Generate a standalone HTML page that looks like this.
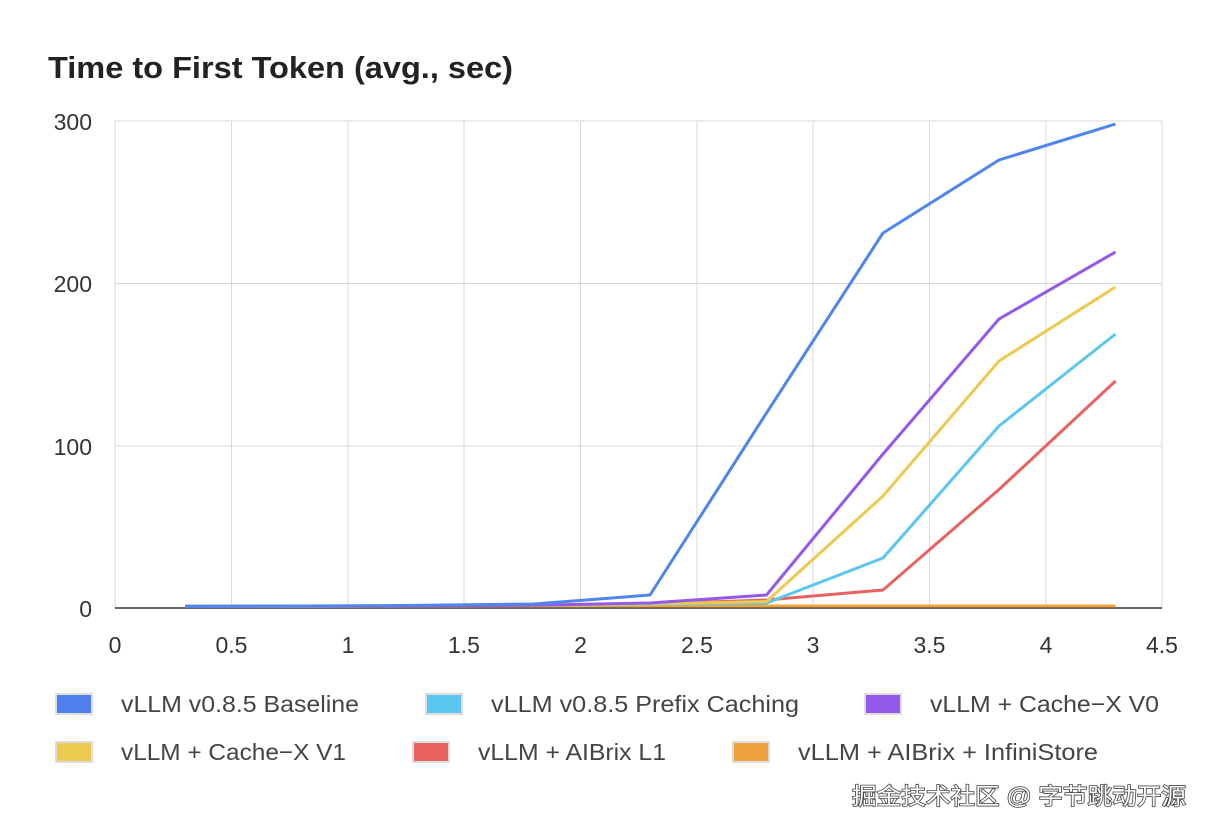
<!DOCTYPE html>
<html><head><meta charset="utf-8"><style>
body{margin:0;background:#fff;width:1210px;height:832px;overflow:hidden;font-family:"Liberation Sans","Noto Sans CJK SC",sans-serif}
</style></head><body>
<svg width="1210" height="832" viewBox="0 0 1210 832" xmlns="http://www.w3.org/2000/svg" font-family="Liberation Sans, Noto Sans CJK SC, sans-serif">
<text x="48" y="78" font-size="31" fill="#222" font-weight="bold" textLength="465" lengthAdjust="spacingAndGlyphs">Time to First Token (avg., sec)</text>
<g stroke="#d9d9d9" stroke-width="1">
<line x1="115" y1="121" x2="1162" y2="121"/><line x1="115" y1="283.5" x2="1162" y2="283.5"/><line x1="115" y1="446" x2="1162" y2="446"/>
<line x1="115" y1="121" x2="115" y2="608"/><line x1="231.5" y1="121" x2="231.5" y2="608"/><line x1="348" y1="121" x2="348" y2="608"/><line x1="464" y1="121" x2="464" y2="608"/><line x1="580.5" y1="121" x2="580.5" y2="608"/><line x1="697" y1="121" x2="697" y2="608"/><line x1="813" y1="121" x2="813" y2="608"/><line x1="929.5" y1="121" x2="929.5" y2="608"/><line x1="1046" y1="121" x2="1046" y2="608"/><line x1="1162" y1="121" x2="1162" y2="608"/>
</g>
<line x1="115" y1="608" x2="1162" y2="608" stroke="#333" stroke-width="1.5"/>
<g font-size="23" fill="#333" text-anchor="end">
<text x="92" y="130">300</text><text x="92" y="292">200</text><text x="92" y="455">100</text><text x="92" y="617">0</text>
</g>
<g font-size="23" fill="#333" text-anchor="middle">
<text x="115" y="653">0</text><text x="231.5" y="653">0.5</text><text x="348" y="653">1</text><text x="464" y="653">1.5</text><text x="580.5" y="653">2</text><text x="697" y="653">2.5</text><text x="813" y="653">3</text><text x="929.5" y="653">3.5</text><text x="1046" y="653">4</text><text x="1162" y="653">4.5</text>
</g>
<g fill="none" stroke-width="3" stroke-linejoin="round">
<polyline stroke="#f0a33c" points="185,606.4 301,606.4 417.5,606.2 534,606 650,606 766.5,606 883,606 999,606 1115.5,606"/>
<polyline stroke="#e8625f" points="185,606.4 301,606.2 417.5,606 534,605.5 650,604 766.5,600 883,590 999,489.5 1115.5,381"/>
<polyline stroke="#5bc6ef" points="185,606.4 301,606.2 417.5,606 534,605.5 650,604.5 766.5,603 883,558 999,426 1115.5,334"/>
<polyline stroke="#ecc94f" points="185,606.4 301,606.2 417.5,606 534,605.5 650,604 766.5,601.5 883,496 999,361 1115.5,287"/>
<polyline stroke="#9359e8" points="185,606.4 301,606.2 417.5,606 534,605.2 650,603 766.5,595 883,454 999,319 1115.5,252"/>
<polyline stroke="#4f85ec" points="185,606.4 301,606 417.5,605.4 534,604 650,595 766.5,413 883,233 999,160 1115.5,124"/>
</g>
<g stroke="#ddd" stroke-width="2">
<rect x="56" y="694" width="36" height="20" fill="#4f7fec"/>
<rect x="426" y="694" width="36" height="20" fill="#5bc6ef"/>
<rect x="865" y="694" width="36" height="20" fill="#9359e8"/>
<rect x="56" y="742" width="36" height="20" fill="#ecc94f"/>
<rect x="413" y="742" width="36" height="20" fill="#e8625f"/>
<rect x="733" y="742" width="36" height="20" fill="#f0a33c"/>
</g>
<g font-size="23.5" fill="#444">
<text x="121" y="712" textLength="238" lengthAdjust="spacingAndGlyphs">vLLM v0.8.5 Baseline</text>
<text x="491" y="712" textLength="308" lengthAdjust="spacingAndGlyphs">vLLM v0.8.5 Prefix Caching</text>
<text x="930" y="712" textLength="229" lengthAdjust="spacingAndGlyphs">vLLM + Cache−X V0</text>
<text x="121" y="760" textLength="225" lengthAdjust="spacingAndGlyphs">vLLM + Cache−X V1</text>
<text x="478" y="760" textLength="188" lengthAdjust="spacingAndGlyphs">vLLM + AIBrix L1</text>
<text x="798" y="760" textLength="300" lengthAdjust="spacingAndGlyphs">vLLM + AIBrix + InfiniStore</text>
</g>
<text x="852" y="804" font-size="23" fill="#fff" stroke="#444" stroke-width="1.6" paint-order="stroke" textLength="334" lengthAdjust="spacingAndGlyphs">掘金技术社区 @ 字节跳动开源</text>
</svg>
</body></html>
